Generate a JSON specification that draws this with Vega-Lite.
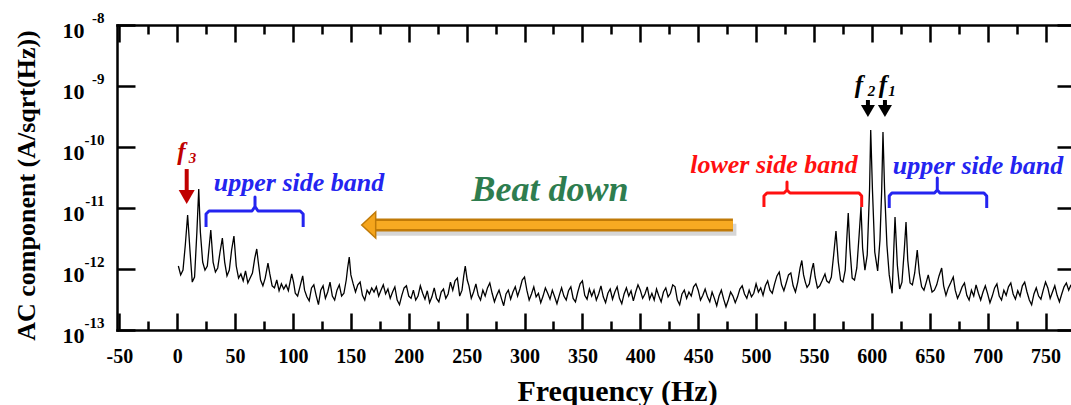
{
  "$schema": "https://vega.github.io/schema/vega-lite/v6.json",
  "width": 954,
  "height": 305,
  "autosize": {"type": "none"},
  "padding": {"left": 117, "top": 25, "right": 0, "bottom": 75},
  "background": "white",
  "config": {
    "view": {"stroke": null},
    "font": "'Liberation Serif', 'Times New Roman', 'DejaVu Serif', serif",
    "text": {"font": "'Liberation Serif', 'Times New Roman', 'DejaVu Serif', serif"},
    "axis": {"grid": false, "labelFont": "'Liberation Serif', 'Times New Roman', 'DejaVu Serif', serif", "titleFont": "'Liberation Serif', 'Times New Roman', 'DejaVu Serif', serif", "domainColor": "black", "tickColor": "black", "labelColor": "black", "titleColor": "black"}
  },
  "datasets": {
    "spec": [
      {"f":1,"v":1.12e-12},{"f":3,"v":8.0e-13},{"f":5,"v":9.6e-13},{"f":7,"v":2.47e-12},{"f":9,"v":7.67e-12},{"f":11,"v":2.05e-12},{"f":13,"v":6.1e-13},{"f":15,"v":7.4e-13},{"f":17,"v":4.04e-12},{"f":18.6,"v":2.05e-11},{"f":20,"v":4.04e-12},{"f":22,"v":1.3e-12},{"f":24,"v":9.6e-13},{"f":26,"v":1.12e-12},{"f":27.5,"v":2.21e-12},{"f":29,"v":4.35e-12},{"f":31,"v":1.3e-12},{"f":33,"v":8.9e-13},{"f":35,"v":1.04e-12},{"f":37,"v":1.9e-12},{"f":39,"v":3.22e-12},{"f":41,"v":1.3e-12},{"f":43,"v":7.7e-13},{"f":45,"v":9.6e-13},{"f":47,"v":2.05e-12},{"f":49,"v":3.47e-12},{"f":51,"v":1.12e-12},{"f":53,"v":7.1e-13},{"f":55,"v":8.3e-13},{"f":57,"v":6.4e-13},{"f":59,"v":9.3e-13},{"f":61,"v":5.9e-13},{"f":63,"v":7.1e-13},{"f":65,"v":8.6e-13},{"f":67,"v":1.51e-12},{"f":68.7,"v":2.13e-12},{"f":70,"v":1.3e-12},{"f":72,"v":6.6e-13},{"f":74,"v":5.3e-13},{"f":76,"v":7.1e-13},{"f":78.4,"v":1.25e-12},{"f":80,"v":8.3e-13},{"f":82,"v":5.3e-13},{"f":84,"v":4.9e-13},{"f":86,"v":6.6e-13},{"f":88,"v":4.4e-13},{"f":90,"v":5.7e-13},{"f":92,"v":4.7e-13},{"f":94,"v":5.5e-13},{"f":96,"v":4.4e-13},{"f":98.9,"v":8.3e-13},{"f":100.5,"v":6.1e-13},{"f":102,"v":4.0e-13},{"f":104,"v":3.6e-13},{"f":106,"v":5.1e-13},{"f":108.4,"v":7.7e-13},{"f":110,"v":4.5e-13},{"f":112,"v":3.5e-13},{"f":114,"v":3.0e-13},{"f":116,"v":4.9e-13},{"f":118,"v":5.5e-13},{"f":120,"v":3.7e-13},
      {"f":122,"v":2.6e-13},{"f":124,"v":4.5e-13},{"f":126,"v":5.3e-13},{"f":128,"v":3.3e-13},{"f":130,"v":4.2e-13},{"f":132,"v":6.1e-13},{"f":134,"v":3.6e-13},{"f":136,"v":3.1e-13},{"f":138,"v":4.5e-13},{"f":140,"v":5.5e-13},{"f":142,"v":3.6e-13},{"f":144,"v":4.0e-13},{"f":146,"v":6.6e-13},{"f":147.2,"v":1.04e-12},{"f":148.6,"v":1.57e-12},{"f":150,"v":8.0e-13},{"f":152,"v":5.7e-13},{"f":154,"v":4.2e-13},{"f":156,"v":5.5e-13},{"f":158,"v":6.1e-13},{"f":160,"v":3.7e-13},{"f":162,"v":3.1e-13},{"f":164,"v":4.5e-13},{"f":166,"v":3.9e-13},{"f":168,"v":4.9e-13},{"f":170,"v":4.2e-13},{"f":172,"v":5.1e-13},{"f":174,"v":3.6e-13},{"f":176,"v":4.5e-13},{"f":178,"v":5.5e-13},{"f":180,"v":3.9e-13},{"f":182,"v":4.7e-13},{"f":184,"v":3.3e-13},{"f":186,"v":4.2e-13},{"f":188,"v":5.1e-13},{"f":190,"v":3.1e-13},{"f":192,"v":2.6e-13},{"f":194,"v":3.7e-13},{"f":196,"v":4.9e-13},{"f":198,"v":5.3e-13},{"f":200,"v":3.6e-13},
      {"f":202,"v":3.3e-13},{"f":204,"v":4.5e-13},{"f":206,"v":3.1e-13},{"f":208,"v":3.6e-13},{"f":210,"v":5.3e-13},{"f":212,"v":4.0e-13},{"f":214,"v":3.2e-13},{"f":216,"v":4.4e-13},{"f":218,"v":2.8e-13},{"f":220,"v":3.5e-13},{"f":222,"v":4.9e-13},{"f":224,"v":3.3e-13},{"f":226,"v":2.9e-13},{"f":228,"v":4.2e-13},{"f":230,"v":4.7e-13},{"f":232,"v":3.3e-13},{"f":234,"v":3.9e-13},{"f":236,"v":6.1e-13},{"f":238,"v":4.5e-13},{"f":240,"v":6.4e-13},{"f":242,"v":7.1e-13},{"f":244,"v":3.6e-13},{"f":246,"v":4.5e-13},{"f":247.5,"v":7.7e-13},{"f":248.8,"v":1.12e-12},{"f":250.5,"v":6.6e-13},{"f":252,"v":5.3e-13},{"f":254,"v":3.3e-13},{"f":256,"v":4.2e-13},{"f":258,"v":5.7e-13},{"f":260,"v":3.7e-13},{"f":262,"v":3.1e-13},{"f":264,"v":4.5e-13},{"f":266,"v":3.6e-13},{"f":268,"v":4.9e-13},{"f":270,"v":5.9e-13},{"f":272,"v":4.0e-13},{"f":274,"v":2.9e-13},{"f":276,"v":3.7e-13},{"f":278,"v":4.5e-13},{"f":280,"v":3.3e-13},{"f":282,"v":2.5e-13},{"f":284,"v":3.9e-13},{"f":286,"v":4.5e-13},{"f":288,"v":3.2e-13},{"f":290,"v":4.2e-13},{"f":292,"v":5.1e-13},{"f":294,"v":3.6e-13},{"f":296,"v":4.7e-13},{"f":298,"v":6.6e-13},{"f":300,"v":7.4e-13},
      {"f":302,"v":4.5e-13},{"f":304,"v":3.1e-13},{"f":306,"v":3.9e-13},{"f":308,"v":5.1e-13},{"f":310,"v":3.5e-13},{"f":312,"v":4.0e-13},{"f":314,"v":2.8e-13},{"f":316,"v":3.6e-13},{"f":318,"v":4.9e-13},{"f":320,"v":4.0e-13},{"f":322,"v":3.2e-13},{"f":324,"v":4.5e-13},{"f":326,"v":3.5e-13},{"f":328,"v":2.7e-13},{"f":330,"v":3.7e-13},{"f":332,"v":4.9e-13},{"f":334,"v":3.6e-13},{"f":336,"v":3.1e-13},{"f":338,"v":4.4e-13},{"f":340,"v":5.1e-13},{"f":342,"v":3.3e-13},{"f":344,"v":2.9e-13},{"f":346,"v":4.2e-13},{"f":348,"v":5.7e-13},{"f":350,"v":6.4e-13},{"f":352,"v":3.7e-13},{"f":354,"v":3.2e-13},{"f":356,"v":4.7e-13},{"f":358,"v":3.6e-13},{"f":360,"v":4.5e-13},{"f":362,"v":3.1e-13},{"f":364,"v":3.9e-13},{"f":366,"v":5.3e-13},{"f":368,"v":3.5e-13},{"f":370,"v":2.8e-13},{"f":372,"v":4.0e-13},{"f":374,"v":4.7e-13},{"f":376,"v":3.2e-13},{"f":378,"v":4.2e-13},{"f":380,"v":5.1e-13},{"f":382,"v":3.3e-13},{"f":384,"v":2.7e-13},{"f":386,"v":3.9e-13},{"f":388,"v":4.9e-13},{"f":390,"v":3.6e-13},{"f":392,"v":4.4e-13},{"f":394,"v":3.0e-13},{"f":396,"v":4.2e-13},{"f":398,"v":5.5e-13},{"f":400,"v":4.5e-13},
      {"f":402,"v":3.3e-13},{"f":404,"v":3.9e-13},{"f":406,"v":5.1e-13},{"f":408,"v":3.2e-13},{"f":410,"v":4.0e-13},{"f":412,"v":3.1e-13},{"f":414,"v":4.7e-13},{"f":416,"v":3.6e-13},{"f":418,"v":2.9e-13},{"f":420,"v":4.2e-13},{"f":422,"v":4.9e-13},{"f":424,"v":3.5e-13},{"f":426,"v":4.0e-13},{"f":428,"v":5.5e-13},{"f":430,"v":5.1e-13},{"f":432,"v":3.1e-13},{"f":434,"v":2.6e-13},{"f":436,"v":3.9e-13},{"f":438,"v":4.5e-13},{"f":440,"v":3.3e-13},{"f":442,"v":4.2e-13},{"f":444,"v":3.6e-13},{"f":446,"v":5.1e-13},{"f":448,"v":5.7e-13},{"f":450,"v":4.5e-13},{"f":452,"v":3.1e-13},{"f":454,"v":3.7e-13},{"f":456,"v":4.7e-13},{"f":458,"v":3.5e-13},{"f":460,"v":2.9e-13},{"f":462,"v":4.2e-13},{"f":464,"v":3.3e-13},{"f":466,"v":2.5e-13},{"f":468,"v":3.6e-13},{"f":470,"v":4.5e-13},{"f":472,"v":3.2e-13},{"f":474,"v":2.4e-13},{"f":476,"v":3.1e-13},{"f":478,"v":4.2e-13},{"f":480,"v":3.6e-13},{"f":482,"v":2.8e-13},{"f":484,"v":3.5e-13},{"f":486,"v":4.7e-13},{"f":488,"v":5.3e-13},{"f":490,"v":3.9e-13},{"f":492,"v":3.3e-13},{"f":494,"v":4.5e-13},{"f":496,"v":3.5e-13},{"f":498,"v":4.0e-13},{"f":500,"v":5.7e-13},
      {"f":502,"v":4.2e-13},{"f":504,"v":4.9e-13},{"f":506,"v":3.7e-13},{"f":508,"v":5.3e-13},{"f":510,"v":6.4e-13},{"f":512,"v":4.5e-13},{"f":514,"v":4.0e-13},{"f":516,"v":5.7e-13},{"f":518,"v":7.7e-13},{"f":520,"v":8.9e-13},{"f":522,"v":5.5e-13},{"f":524,"v":4.4e-13},{"f":526,"v":5.9e-13},{"f":528,"v":8.0e-13},{"f":530,"v":8.6e-13},{"f":532,"v":5.3e-13},{"f":534,"v":4.2e-13},{"f":536,"v":6.1e-13},{"f":538,"v":1.04e-12},{"f":539.5,"v":1.38e-12},{"f":541,"v":8.0e-13},{"f":542.5,"v":6.1e-13},{"f":544,"v":5.0e-13},{"f":546,"v":5.7e-13},{"f":548,"v":9.6e-13},{"f":549.5,"v":1.25e-12},{"f":551,"v":7.4e-13},{"f":553,"v":4.9e-13},{"f":555,"v":5.3e-13},{"f":557,"v":6.4e-13},{"f":559.5,"v":8.3e-13},{"f":561,"v":6.4e-13},{"f":563,"v":5.9e-13},{"f":565,"v":7.4e-13},{"f":567,"v":1.7e-12},{"f":569,"v":4.2e-12},{"f":571,"v":1.3e-12},{"f":573,"v":6.6e-13},{"f":575,"v":6.1e-13},{"f":577,"v":9.6e-13},{"f":578.3,"v":3.0e-12},{"f":579.6,"v":8.3e-12},{"f":581,"v":2.2e-12},{"f":583,"v":7.1e-13},{"f":585,"v":6.6e-13},{"f":587,"v":1.04e-12},{"f":589,"v":3.6e-12},{"f":590.6,"v":1.04e-11},{"f":592,"v":2.2e-12},{"f":594,"v":9.6e-13},{"f":596,"v":1.7e-12},{"f":598,"v":2.0e-11},{"f":599,"v":1.9e-10},{"f":600.5,"v":2.0e-11},{"f":602.5,"v":1.9e-12},{"f":605,"v":9.3e-13},{"f":607,"v":3.0e-12},{"f":608.5,"v":2.0e-11},{"f":609.6,"v":1.76e-10},{"f":611,"v":2.0e-11},{"f":613,"v":2.47e-12},{"f":615,"v":8.0e-13},{"f":617.5,"v":4.0e-13},{"f":620,"v":7.1e-12},{"f":622,"v":1.16e-12},{"f":624,"v":4.7e-13},{"f":626,"v":6.1e-13},{"f":628,"v":2.05e-12},{"f":629.5,"v":5.9e-12},{"f":631,"v":1.4e-12},{"f":633,"v":5.9e-13},{"f":635,"v":5.5e-13},{"f":637,"v":8.6e-13},{"f":639.2,"v":2.05e-12},{"f":641,"v":8.6e-13},{"f":643,"v":5.1e-13},{"f":645,"v":4.5e-13},{"f":647,"v":6.1e-13},{"f":648.7,"v":8.0e-13},{"f":650,"v":6.1e-13},{"f":652,"v":4.2e-13},{"f":654,"v":4.5e-13},{"f":656,"v":5.5e-13},{"f":658,"v":7.7e-13},{"f":660.3,"v":1.04e-12},{"f":662,"v":5.3e-13},{"f":664,"v":3.7e-13},{"f":666,"v":4.9e-13},{"f":668,"v":5.9e-13},{"f":670.3,"v":7.4e-13},{"f":672,"v":4.5e-13},{"f":674,"v":3.3e-13},{"f":676,"v":4.0e-13},{"f":678,"v":5.1e-13},{"f":680,"v":5.9e-13},{"f":682,"v":3.7e-13},{"f":684,"v":3.1e-13},{"f":686,"v":4.5e-13},{"f":688,"v":3.6e-13},{"f":690,"v":5.5e-13},{"f":692,"v":4.0e-13},{"f":694,"v":3.1e-13},{"f":696,"v":4.2e-13},{"f":698,"v":5.3e-13},{"f":700,"v":3.9e-13},
      {"f":702,"v":2.8e-13},{"f":704,"v":3.6e-13},{"f":706,"v":4.9e-13},{"f":708,"v":5.7e-13},{"f":710,"v":3.6e-13},{"f":712,"v":3.1e-13},{"f":714,"v":4.5e-13},{"f":716,"v":3.7e-13},{"f":718,"v":5.1e-13},{"f":720,"v":5.9e-13},{"f":722,"v":3.9e-13},{"f":724,"v":3.2e-13},{"f":726,"v":4.4e-13},{"f":728,"v":3.6e-13},{"f":730,"v":5.3e-13},{"f":732,"v":6.1e-13},{"f":734,"v":4.2e-13},{"f":736,"v":3.1e-13},{"f":738,"v":2.6e-13},{"f":740,"v":3.9e-13},{"f":742,"v":4.9e-13},{"f":744,"v":3.6e-13},{"f":746,"v":3.2e-13},{"f":748,"v":4.5e-13},{"f":750,"v":6.1e-13},{"f":752,"v":4.9e-13},{"f":754,"v":3.3e-13},{"f":756,"v":4.2e-13},{"f":758,"v":5.3e-13},{"f":760,"v":3.7e-13},{"f":762,"v":2.9e-13},{"f":764,"v":3.9e-13},{"f":766,"v":5.1e-13},{"f":768,"v":5.9e-13},{"f":770,"v":4.5e-13},{"f":772,"v":5.5e-13}
    ],
    "blueBr": [
      {"g":"L","o":1,"f":24.9,"v":4.89e-12},{"g":"L","o":2,"f":24.9,"v":7.98e-12},{"g":"L","o":3,"f":27.5,"v":8.93e-12},{"g":"L","o":4,"f":64.6,"v":8.93e-12},{"g":"L","o":5,"f":67.2,"v":1.06e-11},{"g":"L","o":6,"f":67.2,"v":1.51e-11},{"g":"L","o":7,"f":67.2,"v":1.06e-11},{"g":"L","o":8,"f":69.8,"v":8.93e-12},{"g":"L","o":9,"f":106.2,"v":8.93e-12},{"g":"L","o":10,"f":108.8,"v":7.98e-12},{"g":"L","o":11,"f":108.8,"v":4.89e-12},
      {"g":"R","o":1,"f":615.0,"v":1.0e-11},{"g":"R","o":2,"f":615.0,"v":1.57e-11},{"g":"R","o":3,"f":617.3,"v":1.76e-11},{"g":"R","o":4,"f":654.1,"v":1.76e-11},{"g":"R","o":5,"f":656.5,"v":1.97e-11},{"g":"R","o":6,"f":656.5,"v":3.1e-11},{"g":"R","o":7,"f":656.5,"v":1.97e-11},{"g":"R","o":8,"f":658.8,"v":1.76e-11},{"g":"R","o":9,"f":696.8,"v":1.76e-11},{"g":"R","o":10,"f":699.2,"v":1.57e-11},{"g":"R","o":11,"f":699.2,"v":1.0e-11}
    ],
    "redBr": [
      {"o":1,"f":506.8,"v":1.04e-11},{"o":2,"f":506.8,"v":1.57e-11},{"o":3,"f":509.4,"v":1.76e-11},{"o":4,"f":524.1,"v":1.76e-11},{"o":5,"f":526.7,"v":1.97e-11},{"o":6,"f":526.7,"v":2.67e-11},{"o":7,"f":526.7,"v":1.97e-11},{"o":8,"f":529.3,"v":1.76e-11},{"o":9,"f":588.9,"v":1.76e-11},{"o":10,"f":591.2,"v":1.57e-11},{"o":11,"f":591.2,"v":1.04e-11}
    ],
    "orangeShadow": [{"f":171.5,"f2":483.0,"v":4.4e-12}],
    "orangeShaft": [{"f":169.1,"f2":480.0,"v":5.26e-12}],
    "orangeHead": [{"f":165.4,"v":5.26e-12}],
    "redShaft": [{"f":8.2,"v":4.35e-11,"v2":1.83e-11}],
    "redHead": [{"f":8.2,"v":1.51e-11}],
    "blackShaft": [{"f":596.6,"v":5.89e-10,"v2":4.35e-10},{"f":611.3,"v":5.89e-10,"v2":4.35e-10}],
    "blackHead": [{"f":596.6,"v":3.89e-10},{"f":611.3,"v":3.89e-10}],
    "blueTxt": [{"f":105.2,"v":2.57e-11,"t":"upper side band"},{"f":691.7,"v":4.89e-11,"t":"upper side band"}],
    "redTxt": [{"f":515.5,"v":5.07e-11,"t":"lower side band"}],
    "greenTxt": [{"f":322,"v":1.97e-11,"t":"Beat down"}],
    "f3Txt": [{"f":3.7,"v":8.28e-11,"t":"f"}],
    "f3Sub": [{"f":13.2,"v":6.6e-11,"t":"3"}],
    "fTxt": [{"f":588.9,"v":1.04e-9,"t":"f"},{"f":609.6,"v":1.04e-9,"t":"f"}],
    "fSub": [{"f":599.7,"v":8.28e-10,"t":"2"},{"f":617.4,"v":8.28e-10,"t":"1"}]
  },
  "resolve": {"axis": {"x": "independent", "y": "independent"}},
  "layer": [
    {
      "data": {"name": "orangeShadow"},
      "mark": {"type": "rule", "color": "#8a8a8a", "opacity": 0.35, "strokeWidth": 12, "strokeCap": "butt"},
      "encoding": {
        "x": {"field": "f", "type": "quantitative", "scale": {"domain": [-52, 772], "nice": false, "zero": false}, "axis": null},
        "x2": {"field": "f2"},
        "y": {"field": "v", "type": "quantitative", "scale": {"type": "log", "domain": [1e-13, 1e-8], "nice": false}, "axis": null}
      }
    },
    {
      "data": {"name": "spec"},
      "mark": {"type": "line", "color": "black", "strokeWidth": 1.3, "clip": true},
      "encoding": {
        "x": {"field": "f", "type": "quantitative", "scale": {"domain": [-52, 772], "nice": false, "zero": false},
          "axis": {"orient": "bottom", "values": [-50,0,50,100,150,200,250,300,350,400,450,500,550,600,650,700,750], "labelExpr": "'' + datum.value", "ticks": false, "domain": true, "domainWidth": 2.5, "domainCap": "square", "labelFontSize": 20, "labelFontWeight": "bold", "labelPadding": 16, "labelFlush": false, "labelOverlap": false, "title": "Frequency (Hz)", "titleFontSize": 30, "titleFontWeight": "bold", "titleX": 500, "titleY": 70, "titleBaseline": "alphabetic", "titleAlign": "center"}},
        "y": {"field": "v", "type": "quantitative", "scale": {"type": "log", "domain": [1e-13, 1e-8], "nice": false},
          "axis": {"orient": "left", "values": [1e-13,1e-12,1e-11,1e-10,1e-9,1e-8], "ticks": false, "domain": true, "domainWidth": 2.5, "domainCap": "square", "labelExpr": "'10'", "labelFontSize": 22, "labelFontWeight": "bold", "labelPadding": 33, "labelOffset": 5, "labelFlush": false, "labelOverlap": false, "title": "AC component (A/sqrt(Hz))", "titleFontSize": 26, "titleFontWeight": "bold", "titleX": -91, "titleY": 160, "titleAngle": -90, "titleBaseline": "middle", "titleAlign": "center"}},
        "order": {"field": "f", "type": "quantitative"}
      }
    },
    {
      "data": {"name": "blueBr"},
      "transform": [{"filter": "datum.g == 'L'"}],
      "mark": {"type": "line", "color": "#2424f0", "strokeWidth": 3, "strokeJoin": "round"},
      "encoding": {
        "x": {"field": "f", "type": "quantitative", "scale": {"domain": [-52, 772], "nice": false, "zero": false},
          "axis": {"orient": "bottom", "values": [-50,0,50,100,150,200,250,300,350,400,450,500,550,600,650,700,750], "labels": false, "domain": false, "tickSize": -17, "tickWidth": 2.5, "title": null}},
        "y": {"field": "v", "type": "quantitative", "scale": {"type": "log", "domain": [1e-13, 1e-8], "nice": false},
          "axis": {"orient": "left", "values": [1e-13,1e-12,1e-11,1e-10,1e-9,1e-8], "labels": false, "domain": false, "tickSize": -18, "tickWidth": 2.5, "title": null}},
        "order": {"field": "o", "type": "quantitative"}
      }
    },
    {
      "data": {"name": "redBr"},
      "mark": {"type": "line", "color": "#ff1010", "strokeWidth": 3, "strokeJoin": "round"},
      "encoding": {
        "x": {"field": "f", "type": "quantitative", "scale": {"domain": [-52, 772], "nice": false, "zero": false},
          "axis": {"orient": "bottom", "values": [-25,25,75,125,175,225,275,325,375,425,475,525,575,625,675,725], "labels": false, "domain": false, "tickSize": -9, "tickWidth": 2.5, "title": null}},
        "y": {"field": "v", "type": "quantitative", "scale": {"type": "log", "domain": [1e-13, 1e-8], "nice": false},
          "axis": {"orient": "left", "values": [1e-13,1e-12,1e-11,1e-10,1e-9,1e-8], "ticks": false, "domain": false, "labelExpr": "'' + round(log(datum.value)/LN10)", "labelFontSize": 15, "labelFontWeight": "bold", "labelPadding": 13, "labelOffset": -8, "labelFlush": false, "labelOverlap": false, "title": null}},
        "order": {"field": "o", "type": "quantitative"}
      }
    },
    {
      "data": {"name": "blueBr"},
      "transform": [{"filter": "datum.g == 'R'"}],
      "mark": {"type": "line", "color": "#2424f0", "strokeWidth": 3, "strokeJoin": "round"},
      "encoding": {
        "x": {"field": "f", "type": "quantitative", "scale": {"domain": [-52, 772], "nice": false, "zero": false},
          "axis": {"orient": "top", "values": [-50,0,50,100,150,200,250,300,350,400,450,500,550,600,650,700,750], "labels": false, "domain": true, "domainWidth": 2.5, "domainCap": "square", "tickSize": -17, "tickWidth": 2.5, "title": null}},
        "y": {"field": "v", "type": "quantitative", "scale": {"type": "log", "domain": [1e-13, 1e-8], "nice": false},
          "axis": {"orient": "right", "values": [1e-13,1e-12,1e-11,1e-10,1e-9,1e-8], "labels": false, "domain": false, "tickSize": -14, "tickWidth": 2.5, "title": null}},
        "order": {"field": "o", "type": "quantitative"}
      }
    },
    {
      "data": {"name": "orangeShaft"},
      "mark": {"type": "rule", "color": "#c07a08", "strokeWidth": 13, "strokeCap": "butt"},
      "encoding": {
        "x": {"field": "f", "type": "quantitative", "scale": {"domain": [-52, 772], "nice": false, "zero": false},
          "axis": {"orient": "top", "values": [-25,25,75,125,175,225,275,325,375,425,475,525,575,625,675,725], "labels": false, "domain": false, "tickSize": -9, "tickWidth": 2.5, "title": null}},
        "x2": {"field": "f2"},
        "y": {"field": "v", "type": "quantitative", "scale": {"type": "log", "domain": [1e-13, 1e-8], "nice": false}, "axis": null}
      }
    },
    {
      "data": {"name": "orangeShaft"},
      "mark": {"type": "rule", "color": "#f7aa22", "strokeWidth": 8, "strokeCap": "butt"},
      "encoding": {
        "x": {"field": "f", "type": "quantitative", "scale": {"domain": [-52, 772], "nice": false, "zero": false}, "axis": null},
        "x2": {"field": "f2"},
        "y": {"field": "v", "type": "quantitative", "scale": {"type": "log", "domain": [1e-13, 1e-8], "nice": false}, "axis": null}
      }
    },
    {
      "data": {"name": "orangeHead"},
      "mark": {"type": "point", "shape": "M-1,0L1,-1.857L1,1.857Z", "filled": true, "size": 196, "color": "#f5a51c", "stroke": "#c07a08", "strokeWidth": 1.5, "opacity": 1},
      "encoding": {
        "x": {"field": "f", "type": "quantitative", "scale": {"domain": [-52, 772], "nice": false, "zero": false}, "axis": null},
        "y": {"field": "v", "type": "quantitative", "scale": {"type": "log", "domain": [1e-13, 1e-8], "nice": false}, "axis": null}
      }
    },
    {
      "data": {"name": "redShaft"},
      "mark": {"type": "rule", "color": "#c00000", "strokeWidth": 4},
      "encoding": {
        "x": {"field": "f", "type": "quantitative", "scale": {"domain": [-52, 772], "nice": false, "zero": false}, "axis": null},
        "y": {"field": "v", "type": "quantitative", "scale": {"type": "log", "domain": [1e-13, 1e-8], "nice": false}, "axis": null},
        "y2": {"field": "v2"}
      }
    },
    {
      "data": {"name": "redHead"},
      "mark": {"type": "point", "shape": "M-1,-0.875L1,-0.875L0,0.875Z", "filled": true, "size": 256, "color": "#c00000", "opacity": 1},
      "encoding": {
        "x": {"field": "f", "type": "quantitative", "scale": {"domain": [-52, 772], "nice": false, "zero": false}, "axis": null},
        "y": {"field": "v", "type": "quantitative", "scale": {"type": "log", "domain": [1e-13, 1e-8], "nice": false}, "axis": null}
      }
    },
    {
      "data": {"name": "blackShaft"},
      "mark": {"type": "rule", "color": "black", "strokeWidth": 4},
      "encoding": {
        "x": {"field": "f", "type": "quantitative", "scale": {"domain": [-52, 772], "nice": false, "zero": false}, "axis": null},
        "y": {"field": "v", "type": "quantitative", "scale": {"type": "log", "domain": [1e-13, 1e-8], "nice": false}, "axis": null},
        "y2": {"field": "v2"}
      }
    },
    {
      "data": {"name": "blackHead"},
      "mark": {"type": "point", "shape": "M-1,-0.857L1,-0.857L0,0.857Z", "filled": true, "size": 196, "color": "black", "opacity": 1},
      "encoding": {
        "x": {"field": "f", "type": "quantitative", "scale": {"domain": [-52, 772], "nice": false, "zero": false}, "axis": null},
        "y": {"field": "v", "type": "quantitative", "scale": {"type": "log", "domain": [1e-13, 1e-8], "nice": false}, "axis": null}
      }
    },
    {
      "data": {"name": "blueTxt"},
      "mark": {"type": "text", "font": "'Liberation Serif', 'Times New Roman', 'DejaVu Serif', serif", "fontStyle": "italic", "fontWeight": "bold", "fontSize": 26, "color": "#2424f0", "align": "center", "baseline": "middle"},
      "encoding": {
        "x": {"field": "f", "type": "quantitative", "scale": {"domain": [-52, 772], "nice": false, "zero": false}, "axis": null},
        "y": {"field": "v", "type": "quantitative", "scale": {"type": "log", "domain": [1e-13, 1e-8], "nice": false}, "axis": null},
        "text": {"field": "t"}
      }
    },
    {
      "data": {"name": "redTxt"},
      "mark": {"type": "text", "font": "'Liberation Serif', 'Times New Roman', 'DejaVu Serif', serif", "fontStyle": "italic", "fontWeight": "bold", "fontSize": 26, "color": "#ff1010", "align": "center", "baseline": "middle"},
      "encoding": {
        "x": {"field": "f", "type": "quantitative", "scale": {"domain": [-52, 772], "nice": false, "zero": false}, "axis": null},
        "y": {"field": "v", "type": "quantitative", "scale": {"type": "log", "domain": [1e-13, 1e-8], "nice": false}, "axis": null},
        "text": {"field": "t"}
      }
    },
    {
      "data": {"name": "greenTxt"},
      "mark": {"type": "text", "font": "'Liberation Serif', 'Times New Roman', 'DejaVu Serif', serif", "fontStyle": "italic", "fontWeight": "bold", "fontSize": 36, "color": "#2e7d4f", "align": "center", "baseline": "middle"},
      "encoding": {
        "x": {"field": "f", "type": "quantitative", "scale": {"domain": [-52, 772], "nice": false, "zero": false}, "axis": null},
        "y": {"field": "v", "type": "quantitative", "scale": {"type": "log", "domain": [1e-13, 1e-8], "nice": false}, "axis": null},
        "text": {"field": "t"}
      }
    },
    {
      "data": {"name": "f3Txt"},
      "mark": {"type": "text", "font": "'Liberation Serif', 'Times New Roman', 'DejaVu Serif', serif", "fontStyle": "italic", "fontWeight": "bold", "fontSize": 25, "color": "#c00000", "align": "center", "baseline": "middle"},
      "encoding": {
        "x": {"field": "f", "type": "quantitative", "scale": {"domain": [-52, 772], "nice": false, "zero": false}, "axis": null},
        "y": {"field": "v", "type": "quantitative", "scale": {"type": "log", "domain": [1e-13, 1e-8], "nice": false}, "axis": null},
        "text": {"field": "t"}
      }
    },
    {
      "data": {"name": "f3Sub"},
      "mark": {"type": "text", "font": "'Liberation Serif', 'Times New Roman', 'DejaVu Serif', serif", "fontStyle": "italic", "fontWeight": "bold", "fontSize": 15, "color": "#c00000", "align": "center", "baseline": "middle"},
      "encoding": {
        "x": {"field": "f", "type": "quantitative", "scale": {"domain": [-52, 772], "nice": false, "zero": false}, "axis": null},
        "y": {"field": "v", "type": "quantitative", "scale": {"type": "log", "domain": [1e-13, 1e-8], "nice": false}, "axis": null},
        "text": {"field": "t"}
      }
    },
    {
      "data": {"name": "fTxt"},
      "mark": {"type": "text", "font": "'Liberation Serif', 'Times New Roman', 'DejaVu Serif', serif", "fontStyle": "italic", "fontWeight": "bold", "fontSize": 25, "color": "black", "align": "center", "baseline": "middle"},
      "encoding": {
        "x": {"field": "f", "type": "quantitative", "scale": {"domain": [-52, 772], "nice": false, "zero": false}, "axis": null},
        "y": {"field": "v", "type": "quantitative", "scale": {"type": "log", "domain": [1e-13, 1e-8], "nice": false}, "axis": null},
        "text": {"field": "t"}
      }
    },
    {
      "data": {"name": "fSub"},
      "mark": {"type": "text", "font": "'Liberation Serif', 'Times New Roman', 'DejaVu Serif', serif", "fontStyle": "italic", "fontWeight": "bold", "fontSize": 15, "color": "black", "align": "center", "baseline": "middle"},
      "encoding": {
        "x": {"field": "f", "type": "quantitative", "scale": {"domain": [-52, 772], "nice": false, "zero": false}, "axis": null},
        "y": {"field": "v", "type": "quantitative", "scale": {"type": "log", "domain": [1e-13, 1e-8], "nice": false}, "axis": null},
        "text": {"field": "t"}
      }
    }
  ]
}
